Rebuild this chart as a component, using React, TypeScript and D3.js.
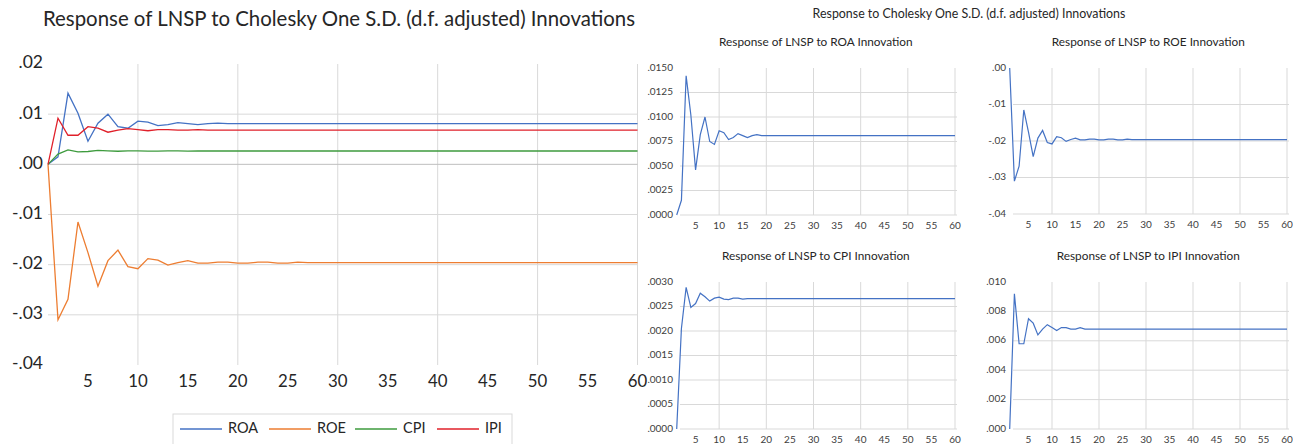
import * as d3 from "d3";

// impulse responses, periods 1..60
const periods = d3.range(1, 61);

const roa = [
  0, 0.0015, 0.0142, 0.0102, 0.0046, 0.0082, 0.01, 0.0075, 0.0072, 0.0086,
  0.0084, 0.0077, 0.0079, 0.0083, 0.0081, 0.0079, 0.0081, 0.0082, 0.0081, 0.0081,
  0.0081, 0.0081, 0.0081, 0.0081, 0.0081, 0.0081, 0.0081, 0.0081, 0.0081, 0.0081,
  0.0081, 0.0081, 0.0081, 0.0081, 0.0081, 0.0081, 0.0081, 0.0081, 0.0081, 0.0081,
  0.0081, 0.0081, 0.0081, 0.0081, 0.0081, 0.0081, 0.0081, 0.0081, 0.0081, 0.0081,
  0.0081, 0.0081, 0.0081, 0.0081, 0.0081, 0.0081, 0.0081, 0.0081, 0.0081, 0.0081,
];
const roe = [
  0, -0.031, -0.0269, -0.0115, -0.0176, -0.0243, -0.0192, -0.0171, -0.0204, -0.0208,
  -0.0188, -0.0191, -0.0201, -0.0196, -0.0192, -0.0197, -0.0197, -0.0195, -0.0195, -0.0197,
  -0.0197, -0.0195, -0.0195, -0.0197, -0.0197, -0.0195, -0.0196, -0.0196, -0.0196, -0.0196,
  -0.0196, -0.0196, -0.0196, -0.0196, -0.0196, -0.0196, -0.0196, -0.0196, -0.0196, -0.0196,
  -0.0196, -0.0196, -0.0196, -0.0196, -0.0196, -0.0196, -0.0196, -0.0196, -0.0196, -0.0196,
  -0.0196, -0.0196, -0.0196, -0.0196, -0.0196, -0.0196, -0.0196, -0.0196, -0.0196, -0.0196,
];
const cpi = [
  0, 0.00205, 0.00289, 0.00248, 0.00256, 0.00277, 0.0027, 0.00261, 0.00267, 0.00269,
  0.00265, 0.00264, 0.00267, 0.00267, 0.00265, 0.00266, 0.00266, 0.00266, 0.00266, 0.00266,
  0.00266, 0.00266, 0.00266, 0.00266, 0.00266, 0.00266, 0.00266, 0.00266, 0.00266, 0.00266,
  0.00266, 0.00266, 0.00266, 0.00266, 0.00266, 0.00266, 0.00266, 0.00266, 0.00266, 0.00266,
  0.00266, 0.00266, 0.00266, 0.00266, 0.00266, 0.00266, 0.00266, 0.00266, 0.00266, 0.00266,
  0.00266, 0.00266, 0.00266, 0.00266, 0.00266, 0.00266, 0.00266, 0.00266, 0.00266, 0.00266,
];
const ipi = [
  0, 0.0092, 0.0058, 0.0058, 0.0075, 0.0072, 0.0064, 0.0068, 0.0071, 0.0069,
  0.0067, 0.0069, 0.0069, 0.0068, 0.0068, 0.0069, 0.0068, 0.0068, 0.0068, 0.0068,
  0.0068, 0.0068, 0.0068, 0.0068, 0.0068, 0.0068, 0.0068, 0.0068, 0.0068, 0.0068,
  0.0068, 0.0068, 0.0068, 0.0068, 0.0068, 0.0068, 0.0068, 0.0068, 0.0068, 0.0068,
  0.0068, 0.0068, 0.0068, 0.0068, 0.0068, 0.0068, 0.0068, 0.0068, 0.0068, 0.0068,
  0.0068, 0.0068, 0.0068, 0.0068, 0.0068, 0.0068, 0.0068, 0.0068, 0.0068, 0.0068,
];

const seriesNames = ["ROA", "ROE", "CPI", "IPI"];
const xTicks = [5, 10, 15, 20, 25, 30, 35, 40, 45, 50, 55, 60];
const xGrid = [10, 20, 30, 40, 50, 60];
const mainYTicks = [0.02, 0.01, 0, -0.01, -0.02, -0.03, -0.04];
const mainYLabels = [".02", ".01", ".00", "-.01", "-.02", "-.03", "-.04"];

const roaTicks = [0, 0.0025, 0.005, 0.0075, 0.01, 0.0125, 0.015];
const roaLabels = [".0000", ".0025", ".0050", ".0075", ".0100", ".0125", ".0150"];
const roeTicks = [-0.04, -0.03, -0.02, -0.01, 0];
const roeLabels = ["-.04", "-.03", "-.02", "-.01", ".00"];
const cpiTicks = [0, 0.0005, 0.001, 0.0015, 0.002, 0.0025, 0.003];
const cpiLabels = [".0000", ".0005", ".0010", ".0015", ".0020", ".0025", ".0030"];
const ipiTicks = [0, 0.002, 0.004, 0.006, 0.008, 0.01];
const ipiLabels = [".000", ".002", ".004", ".006", ".008", ".010"];

const colors = ["#4472C4", "#ED7D31", "#3E9B3E", "#E0202A"];
const FONT = "Lato, 'Open Sans', sans-serif";
const GRID = "#D9D9D9";

type PanelProps = {
  title: string;
  values: number[];
  ticks: number[];
  labels: string[];
  x0: number;
  x1: number;
  yTop: number;
  yBottom: number;
};

function Panel({ title, values, ticks, labels, x0, x1, yTop, yBottom }: PanelProps) {
  const x = d3.scaleLinear().domain([1, 60]).range([x0, x1]);
  const y = d3
    .scaleLinear()
    .domain([d3.min(ticks)!, d3.max(ticks)!])
    .range([yBottom, yTop]);
  const line = d3
    .line<number>()
    .x((_, i) => x(periods[i]))
    .y((d) => y(d));
  const left = x(0);
  return (
    <g fontFamily={FONT}>
      <text x={(x0 + x1) / 2} y={yTop - 25} textAnchor="middle" dominantBaseline="middle" fontSize={11.8} fill="#262626">
        {title}
      </text>
      {ticks.slice(0, -1).map((t) => (
        <line key={"h" + t} x1={left + 8} x2={x1 + 2} y1={y(t)} y2={y(t)} stroke={GRID} />
      ))}
      {xGrid.map((t) => (
        <line key={"v" + t} x1={x(t)} x2={x(t)} y1={yTop} y2={yBottom} stroke={GRID} />
      ))}
      {ticks.map((t, i) => (
        <text key={"yl" + t} x={left + 1} y={y(t)} textAnchor="end" dominantBaseline="middle" fontSize={10} fill="#404040">
          {labels[i]}
        </text>
      ))}
      {xTicks.map((t) => (
        <text key={"xl" + t} x={x(t)} y={yBottom + 11} textAnchor="middle" dominantBaseline="middle" fontSize={10} fill="#404040">
          {t}
        </text>
      ))}
      <path d={line(values) ?? ""} fill="none" stroke="#4472C4" strokeWidth={1.2} />
    </g>
  );
}

export default function App() {
  const x = d3.scaleLinear().domain([1, 60]).range([48, 637.5]);
  const y = d3.scaleLinear().domain([-0.04, 0.02]).range([365, 64]);
  const line = d3
    .line<number>()
    .x((_, i) => x(periods[i]))
    .y((d) => y(d));
  const all = [roa, roe, cpi, ipi];
  const legendX = [180, 269, 355, 437];

  return (
    <svg
      width={1293}
      height={444}
      style={{ position: "absolute", left: 0, top: 0, background: "#fff" }}
      fontFamily={FONT}
    >
      <text x={339} y={21} textAnchor="middle" dominantBaseline="middle" fontSize={20.4} fill="#262626">
        Response of LNSP to Cholesky One S.D. (d.f. adjusted) Innovations
      </text>
      {mainYTicks
        .filter((t) => t !== 0 && t !== 0.02 && t !== -0.04)
        .map((t) => (
          <line key={"h" + t} x1={48} x2={637.5} y1={y(t)} y2={y(t)} stroke={GRID} />
        ))}
      {xGrid.map((t) => (
        <line key={"v" + t} x1={x(t)} x2={x(t)} y1={64} y2={365} stroke={GRID} />
      ))}
      <line x1={48} x2={637.5} y1={y(0)} y2={y(0)} stroke="#BFBFBF" />
      {mainYTicks.map((t, i) => (
        <text key={"yl" + t} x={43} y={y(t)} textAnchor="end" dominantBaseline="middle" fontSize={17.5} fill="#262626">
          {mainYLabels[i]}
        </text>
      ))}
      {xTicks.map((t) => (
        <text key={"xl" + t} x={x(t)} y={383} textAnchor="middle" dominantBaseline="middle" fontSize={16.8} fill="#262626">
          {t}
        </text>
      ))}
      {all.map((vals, i) => (
        <path key={seriesNames[i]} d={line(vals) ?? ""} fill="none" stroke={colors[i]} strokeWidth={1.3} />
      ))}

      <rect x={173} y={414} width={339} height={40} fill="#fff" stroke={GRID} />
      {seriesNames.map((name, i) => (
        <g key={name}>
          <line x1={legendX[i]} x2={legendX[i] + 42} y1={429} y2={429} stroke={colors[i]} strokeWidth={1.3} />
          <text x={legendX[i] + 48} y={429} dominantBaseline="middle" fontSize={14.5} fill="#262626">
            {name}
          </text>
        </g>
      ))}

      <text x={969} y={15} textAnchor="middle" dominantBaseline="middle" fontSize={12.4} fill="#262626">
        Response to Cholesky One S.D. (d.f. adjusted) Innovations
      </text>
      <Panel title="Response of LNSP to ROA Innovation" values={roa} ticks={roaTicks} labels={roaLabels} x0={676.7} x1={955} yTop={68} yBottom={215} />
      <Panel title="Response of LNSP to ROE Innovation" values={roe} ticks={roeTicks} labels={roeLabels} x0={1009.7} x1={1287} yTop={68} yBottom={214} />
      <Panel title="Response of LNSP to CPI Innovation" values={cpi} ticks={cpiTicks} labels={cpiLabels} x0={676.7} x1={955} yTop={282} yBottom={429} />
      <Panel title="Response of LNSP to IPI Innovation" values={ipi} ticks={ipiTicks} labels={ipiLabels} x0={1009.7} x1={1287} yTop={282} yBottom={429} />
    </svg>
  );
}
